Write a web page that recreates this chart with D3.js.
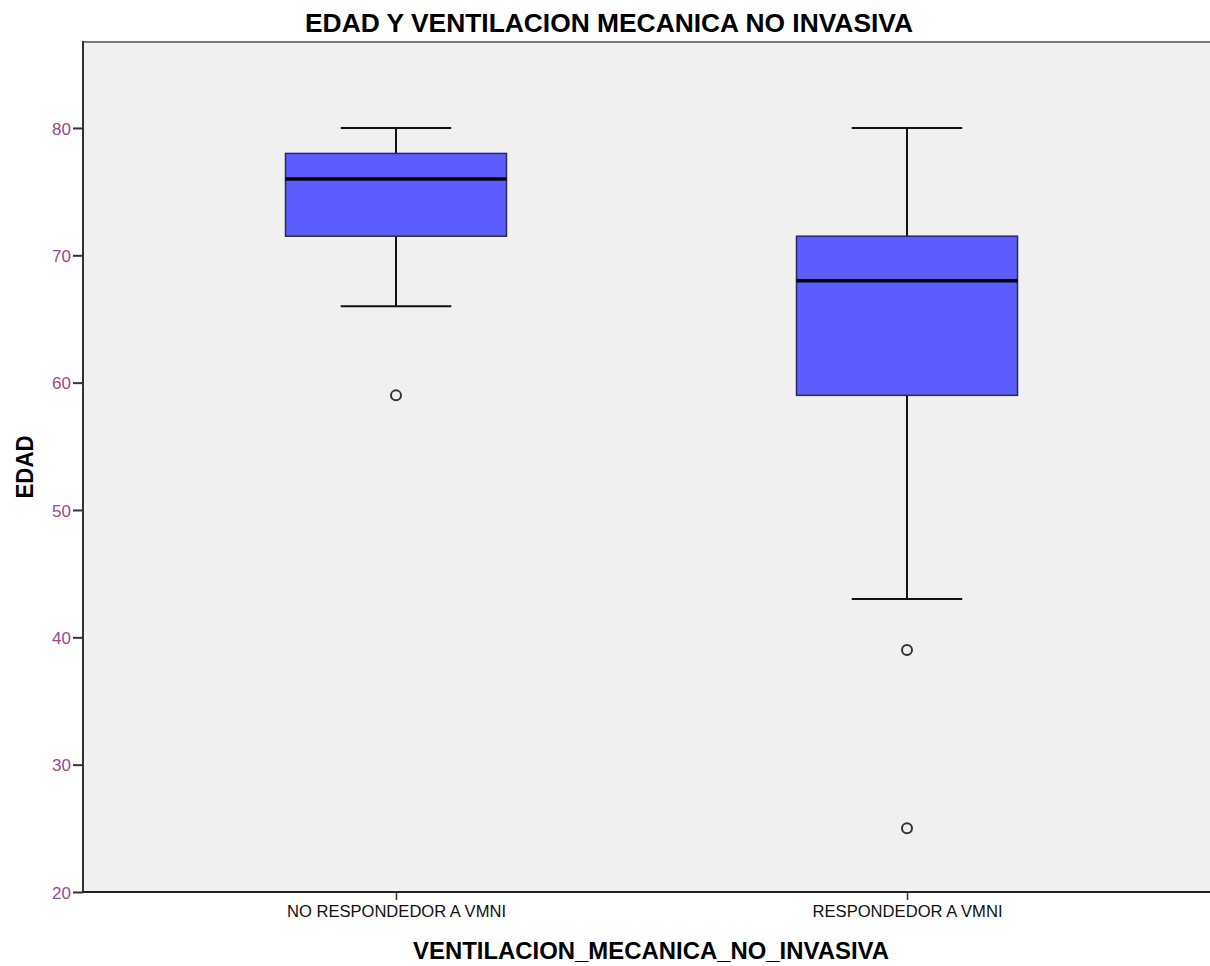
<!DOCTYPE html>
<html>
<head>
<meta charset="utf-8">
<script src="https://cdn.jsdelivr.net/npm/d3@7"></script>
<style>
  body { margin: 0; background: #fff; }
  text { font-family: "Liberation Sans", Arial, sans-serif; }
</style>
</head>
<body>
<div id="chart"></div>
<script>
// values
var categories = ["NO RESPONDEDOR A VMNI", "RESPONDEDOR A VMNI"];
var whiskerLow = [66, 43];
var q1 = [71.5, 59];
var median = [76, 68];
var q3 = [78, 71.5];
var whiskerHigh = [80, 80];
var outliers = [[59], [39, 25]];
var yTicks = [20, 30, 40, 50, 60, 70, 80];

var w = 1210, h = 966;
var plotLeft = 83, plotTop = 42, plotBottom = 892, plotRight = 1220;

var svg = d3.select("#chart")
  .append("svg")
  .attr("width", w)
  .attr("height", h);

var x = d3.scalePoint()
  .domain(categories)
  .range([plotLeft, plotRight])
  .padding(0.6125);

var y = d3.scaleLinear()
  .domain([20, 86.75])
  .range([plotBottom, plotTop]);

var boxW = x.step() * 0.4325;
var capW = boxW / 2;

// plot background
svg.append("rect")
  .attr("x", plotLeft).attr("y", plotTop)
  .attr("width", plotRight - plotLeft).attr("height", plotBottom - plotTop)
  .style("fill", "#f0f0f0");

svg.append("line")
  .attr("x1", plotLeft).attr("x2", plotRight)
  .attr("y1", plotTop).attr("y2", plotTop)
  .style("stroke", "#7a7a7a").style("stroke-width", 2);

// y axis
var yAxis = d3.axisLeft(y).tickValues(yTicks).tickSize(10).tickPadding(2);
var gy = svg.append("g").attr("transform", "translate(" + plotLeft + ",0)").call(yAxis);
gy.select(".domain").remove();
gy.selectAll(".tick line").style("stroke", "#333").style("stroke-width", 2);
gy.selectAll(".tick text")
  .style("font-size", "17px")
  .style("fill", "#964896")
  .attr("dy", "0.36em");

// x axis
var xAxis = d3.axisBottom(x).tickSize(8).tickPadding(6);
var gx = svg.append("g").attr("transform", "translate(0," + plotBottom + ")").call(xAxis);
gx.select(".domain").remove();
gx.selectAll(".tick line").style("stroke", "#333").style("stroke-width", 1.5);
gx.selectAll(".tick text")
  .style("font-size", "16px")
  .style("fill", "#111")
  .attr("textLength", 219)
  .attr("lengthAdjust", "spacingAndGlyphs");
gx.selectAll(".tick text").filter(function(d, i) { return i == 1; })
  .attr("textLength", 190);

svg.append("line")
  .attr("x1", plotLeft).attr("x2", plotLeft)
  .attr("y1", plotTop - 1).attr("y2", plotBottom + 1)
  .style("stroke", "#333").style("stroke-width", 2);
svg.append("line")
  .attr("x1", plotLeft).attr("x2", plotRight)
  .attr("y1", plotBottom).attr("y2", plotBottom)
  .style("stroke", "#222").style("stroke-width", 2);

// boxes
var groups = svg.selectAll(".box")
  .data(categories)
  .enter()
  .append("g")
  .attr("class", "box");

groups.append("line")
  .attr("x1", d => x(d)).attr("x2", d => x(d))
  .attr("y1", (d, i) => y(whiskerHigh[i])).attr("y2", (d, i) => y(q3[i]))
  .style("stroke", "#111").style("stroke-width", 2);
groups.append("line")
  .attr("x1", d => x(d)).attr("x2", d => x(d))
  .attr("y1", (d, i) => y(q1[i])).attr("y2", (d, i) => y(whiskerLow[i]))
  .style("stroke", "#111").style("stroke-width", 2);

groups.append("line")
  .attr("x1", d => x(d) - capW / 2).attr("x2", d => x(d) + capW / 2)
  .attr("y1", (d, i) => y(whiskerHigh[i])).attr("y2", (d, i) => y(whiskerHigh[i]))
  .style("stroke", "#111").style("stroke-width", 2);
groups.append("line")
  .attr("x1", d => x(d) - capW / 2).attr("x2", d => x(d) + capW / 2)
  .attr("y1", (d, i) => y(whiskerLow[i])).attr("y2", (d, i) => y(whiskerLow[i]))
  .style("stroke", "#111").style("stroke-width", 2);

groups.append("rect")
  .attr("x", d => x(d) - boxW / 2)
  .attr("width", boxW)
  .attr("y", (d, i) => y(q3[i]))
  .attr("height", (d, i) => y(q1[i]) - y(q3[i]))
  .style("fill", "#5c5cff")
  .style("stroke", "#2a2a55")
  .style("stroke-width", 1.5);

groups.append("line")
  .attr("x1", d => x(d) - boxW / 2).attr("x2", d => x(d) + boxW / 2)
  .attr("y1", (d, i) => y(median[i])).attr("y2", (d, i) => y(median[i]))
  .style("stroke", "#000").style("stroke-width", 3.5);

groups.each(function(d, i) {
  d3.select(this).selectAll("circle")
    .data(outliers[i])
    .enter()
    .append("circle")
    .attr("cx", x(d))
    .attr("cy", v => y(v))
    .attr("r", 5)
    .style("fill", "none")
    .style("stroke", "#333")
    .style("stroke-width", 2);
});

// titles
svg.append("text")
  .attr("x", 609).attr("y", 32)
  .attr("text-anchor", "middle")
  .style("font-size", "25px").style("font-weight", "bold")
  .attr("textLength", 608).attr("lengthAdjust", "spacingAndGlyphs")
  .text("EDAD Y VENTILACION MECANICA NO INVASIVA");

svg.append("text")
  .attr("x", 651).attr("y", 959)
  .attr("text-anchor", "middle")
  .style("font-size", "23px").style("font-weight", "bold")
  .attr("textLength", 476).attr("lengthAdjust", "spacingAndGlyphs")
  .text("VENTILACION_MECANICA_NO_INVASIVA");

svg.append("text")
  .attr("transform", "translate(33," + ((plotTop + plotBottom) / 2) + ") rotate(-90)")
  .attr("text-anchor", "middle")
  .style("font-size", "24px").style("font-weight", "bold")
  .attr("textLength", 63).attr("lengthAdjust", "spacingAndGlyphs")
  .text("EDAD");
</script>
</body>
</html>
